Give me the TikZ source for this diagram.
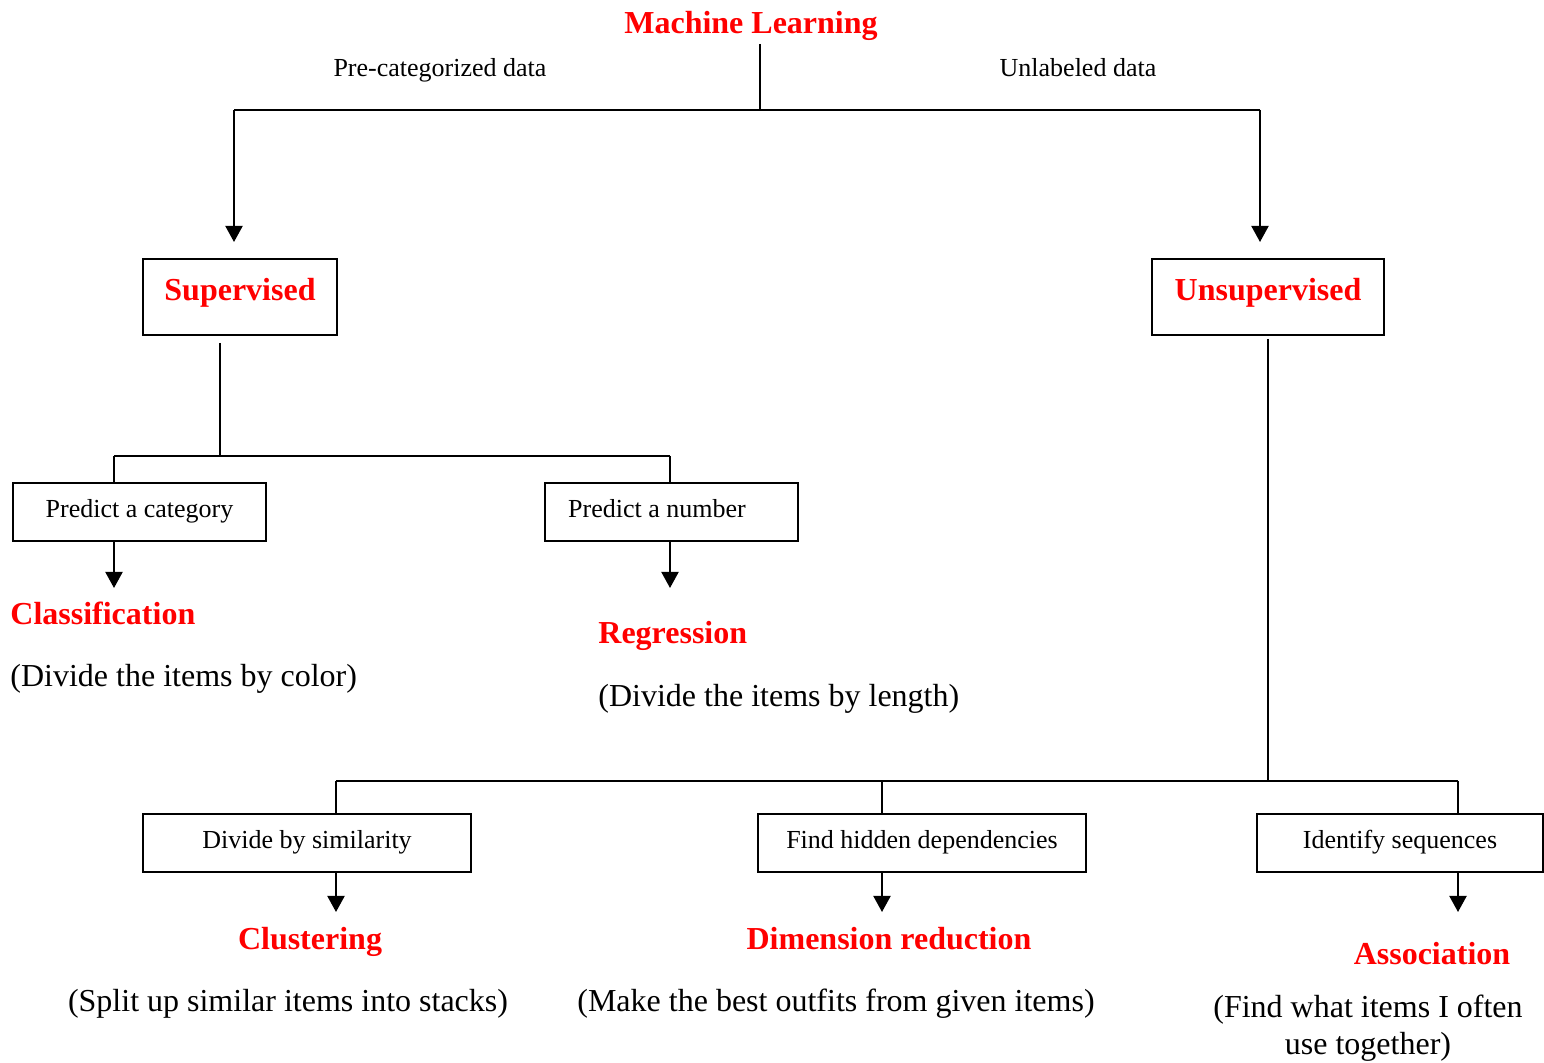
\documentclass[tikz,border=0pt]{standalone}
\usepackage{fontspec}
\setmainfont{Liberation Serif}
\usetikzlibrary{arrows.meta}
\begin{document}
\begin{tikzpicture}[x=0.5pt,y=-0.5pt,
  line/.style={line width=1pt},
  arr/.style={line width=1pt,-{Triangle[length=8pt,width=8.5pt]}},
  title/.style={text=red,font=\fontsize{16}{19}\selectfont\bfseries,inner sep=0pt,anchor=base},
  note/.style={font=\fontsize{13}{15}\selectfont,inner sep=0pt,anchor=base},
  desc/.style={font=\fontsize{16}{19}\selectfont,inner sep=0pt,anchor=base},
  bigbox/.style={draw,line width=1pt,inner sep=0pt,text=red,font=\fontsize{16}{19}\selectfont\bfseries,text height=11pt,text depth=7pt},
  smallbox/.style={draw,line width=1pt,inner sep=0pt,font=\fontsize{13}{15}\selectfont,text height=9pt,text depth=3pt}]
\useasboundingbox (0,0) rectangle (1544,1063);

% root and branch labels
\node[title] (ml) at (751,34) {Machine Learning};
\node[note] (pre) at (440,77) {Pre-categorized data};
\node[note] (unl) at (1078,77) {Unlabeled data};

% main boxes
\node[bigbox,minimum width=97pt,minimum height=38pt] (sup) at (240,297) {Supervised};
\node[bigbox,minimum width=116pt,minimum height=38pt] (uns) at (1268,297) {Unsupervised};

% top split
\coordinate (mlfoot) at (760,44);
\coordinate (mlj) at (760,110);
\coordinate (lj) at (234,110);
\coordinate (rj) at (1260,110);
\coordinate (suptip) at (234,242);
\coordinate (unstip) at (1260,242);
\draw[line] (mlfoot) -- (mlj);
\draw[line] (lj) -- (rj);
\draw[arr] (lj) -- (suptip);
\draw[arr] (rj) -- (unstip);

% supervised branch
\node[smallbox,minimum width=126.5pt,minimum height=29pt] (cat) at (139.5,512) {Predict a category};
\node[smallbox,minimum width=126.5pt,minimum height=29pt] (num) at (671.5,512) {};
\node[note] (numtxt) at (657,518) {Predict a number};
\coordinate (supfoot) at (220,343);
\coordinate (supj) at (220,456);
\coordinate (catj) at (114,456);
\coordinate (numj) at (670,456);
\draw[line] (supfoot) -- (supj);
\draw[line] (catj) -- (numj);
\draw[line] (catj) -- (catj |- cat.north);
\draw[line] (numj) -- (numj |- num.north);
\coordinate (cattip) at (114,588);
\coordinate (numtip) at (670,588);
\draw[arr] (cattip |- cat.south) -- (cattip);
\draw[arr] (numtip |- num.south) -- (numtip);

\node[title,anchor=base west] (cls) at (10,625) {Classification};
\node[desc,anchor=base west] (clsd) at (10,687) {(Divide the items by color)};
\node[title,anchor=base west] (reg) at (598,644) {Regression};
\node[desc,anchor=base west] (regd) at (598,707) {(Divide the items by length)};

% unsupervised branch
\node[smallbox,minimum width=164pt,minimum height=29pt] (sim) at (307,843) {Divide by similarity};
\node[smallbox,minimum width=164pt,minimum height=29pt] (dep) at (922,843) {Find hidden dependencies};
\node[smallbox,minimum width=143pt,minimum height=29pt] (seq) at (1400,843) {Identify sequences};
\coordinate (unsfoot) at (1268,339);
\coordinate (unsj) at (1268,781);
\coordinate (simj) at (336,781);
\coordinate (depj) at (882,781);
\coordinate (seqj) at (1458,781);
\draw[line] (unsfoot) -- (unsj);
\draw[line] (simj) -- (seqj);
\draw[line] (simj) -- (simj |- sim.north);
\draw[line] (depj) -- (depj |- dep.north);
\draw[line] (seqj) -- (seqj |- seq.north);
\coordinate (simtip) at (336,912);
\coordinate (deptip) at (882,912);
\coordinate (seqtip) at (1458,912);
\draw[arr] (simtip |- sim.south) -- (simtip);
\draw[arr] (deptip |- dep.south) -- (deptip);
\draw[arr] (seqtip |- seq.south) -- (seqtip);

\node[title] (clu) at (310,950) {Clustering};
\node[desc] (clud) at (288,1012) {(Split up similar items into stacks)};
\node[title] (dim) at (889,950) {Dimension reduction};
\node[desc] (dimd) at (836,1012) {(Make the best outfits from given items)};
\node[title] (aso) at (1432,965) {Association};
\node[desc] (asod1) at (1368,1018) {(Find what items I often};
\node[desc] (asod2) at (1368,1054) {use together)};
\end{tikzpicture}
\end{document}
